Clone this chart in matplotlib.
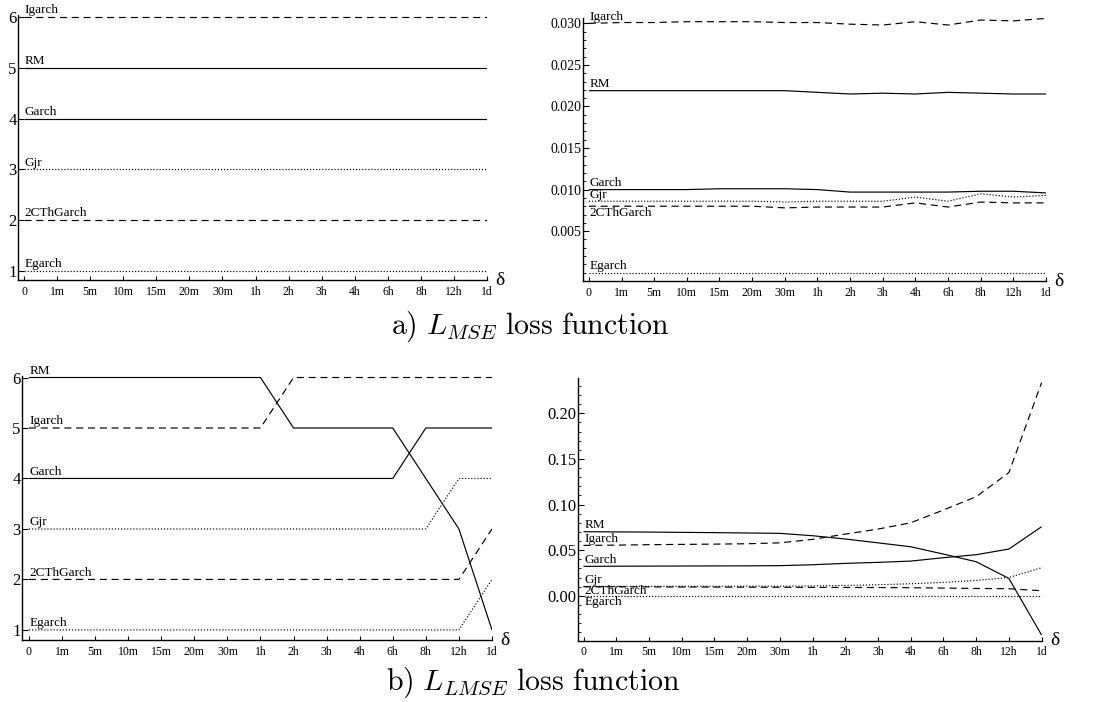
import numpy as np
import matplotlib
matplotlib.use("Agg")
import matplotlib.pyplot as plt
from matplotlib.ticker import MultipleLocator, FixedLocator, FormatStrFormatter

plt.rcParams['font.family'] = ['Liberation Serif', 'DejaVu Serif']
plt.rcParams['mathtext.fontset'] = 'cm'

# sampling frequencies on the horizontal axis
deltas = ['0', '1m', '5m', '10m', '15m', '20m', '30m', '1h', '2h', '3h', '4h', '6h', '8h', '12h', '1d']

# a) L_MSE: ranks
mse_rank_igarch = [6] * 15
mse_rank_rm = [5] * 15
mse_rank_garch = [4] * 15
mse_rank_gjr = [3] * 15
mse_rank_2cth = [2] * 15
mse_rank_egarch = [1] * 15

# a) L_MSE: loss values
mse_igarch = [0.0300, 0.0301, 0.0301, 0.0302, 0.0302, 0.0302, 0.0301, 0.0301,
              0.0299, 0.0298, 0.0302, 0.0298, 0.0304, 0.0303, 0.0306]
mse_rm = [0.0219, 0.0219, 0.0219, 0.0219, 0.0219, 0.0219, 0.0219, 0.0217,
          0.0215, 0.0216, 0.0215, 0.0217, 0.0216, 0.0215, 0.0215]
mse_garch = [0.0100, 0.0100, 0.0100, 0.0100, 0.0101, 0.0101, 0.0101, 0.0100,
             0.0097, 0.0097, 0.0097, 0.0097, 0.0098, 0.0098, 0.0096]
mse_gjr = [0.0086, 0.0086, 0.0086, 0.0086, 0.0086, 0.0086, 0.0085, 0.0086,
           0.0086, 0.0086, 0.0091, 0.0086, 0.0095, 0.0091, 0.0093]
mse_2cth = [0.0080, 0.0080, 0.0080, 0.0080, 0.0080, 0.0080, 0.0078, 0.0079,
            0.0079, 0.0079, 0.0084, 0.0079, 0.0085, 0.0084, 0.0084]
mse_egarch = [0.0000] * 15

# b) L_LMSE: ranks
lmse_rank_rm = [6, 6, 6, 6, 6, 6, 6, 6, 5, 5, 5, 5, 4, 3, 1]
lmse_rank_igarch = [5, 5, 5, 5, 5, 5, 5, 5, 6, 6, 6, 6, 6, 6, 6]
lmse_rank_garch = [4, 4, 4, 4, 4, 4, 4, 4, 4, 4, 4, 4, 5, 5, 5]
lmse_rank_gjr = [3, 3, 3, 3, 3, 3, 3, 3, 3, 3, 3, 3, 3, 4, 4]
lmse_rank_2cth = [2, 2, 2, 2, 2, 2, 2, 2, 2, 2, 2, 2, 2, 2, 3]
lmse_rank_egarch = [1, 1, 1, 1, 1, 1, 1, 1, 1, 1, 1, 1, 1, 1, 2]

# b) L_LMSE: loss values
lmse_rm = [0.0702, 0.0700, 0.0698, 0.0695, 0.0692, 0.0688, 0.0684, 0.0658,
           0.0622, 0.0580, 0.0537, 0.0457, 0.0373, 0.0190, -0.0431]
lmse_igarch = [0.0552, 0.0555, 0.0560, 0.0563, 0.0566, 0.0570, 0.0580, 0.0618,
               0.0676, 0.0731, 0.0800, 0.0940, 0.1086, 0.1350, 0.2336]
lmse_garch = [0.0322, 0.0324, 0.0325, 0.0326, 0.0327, 0.0328, 0.0330, 0.0340,
              0.0355, 0.0366, 0.0380, 0.0417, 0.0450, 0.0512, 0.0757]
lmse_gjr = [0.0102, 0.0103, 0.0103, 0.0104, 0.0104, 0.0105, 0.0105, 0.0107,
            0.0113, 0.0120, 0.0132, 0.0146, 0.0168, 0.0200, 0.0307]
lmse_2cth = [0.0099, 0.0098, 0.0097, 0.0096, 0.0095, 0.0094, 0.0093, 0.0092,
             0.0091, 0.0090, 0.0088, 0.0084, 0.0080, 0.0077, 0.0055]
lmse_egarch = [0.0000] * 15

DASH = (0, (6, 4))
DOT = (0, (1, 1.6))
styles = {'Igarch': DASH, 'RM': '-', 'Garch': '-', 'Gjr': DOT,
          '2CThGarch': DASH, 'Egarch': DOT}


def draw_panel(ax, series, label_pos, xlim, ylim):
    x = np.arange(len(deltas))
    for name, vals in series.items():
        ax.plot(x, vals, color='black', lw=0.85, linestyle=styles[name],
                solid_capstyle='butt')
        dy, va = label_pos.get(name, (0.5, 'bottom'))
        ax.annotate(name, xy=(0, vals[0]), xytext=(0.5, dy),
                    textcoords='offset points', ha='left', va=va, fontsize=9.5)
    ax.set_xlim(*xlim)
    ax.set_ylim(*ylim)
    ax.set_xticks(x)
    ax.set_xticklabels(deltas, fontsize=8.5)
    ax.spines['top'].set_visible(False)
    ax.spines['right'].set_visible(False)
    ax.spines['left'].set_linewidth(1.0)
    ax.spines['bottom'].set_linewidth(1.0)
    ax.tick_params(axis='x', direction='in', length=3, width=0.8, pad=4)
    ax.tick_params(axis='y', direction='in', length=4, width=0.8, pad=1, labelsize=9)
    ax.tick_params(axis='y', which='minor', direction='in', length=2.5, width=0.6)
    ax.annotate('δ', xy=(1, 0), xycoords='axes fraction', xytext=(6, 0),
                textcoords='offset points', ha='left', va='center', fontsize=14)


fig = plt.figure(figsize=(10.94, 7.02), dpi=100)

# a) left: ranks
ax1 = fig.add_axes([0.0165, 0.6011, 0.4287, 0.3775])
draw_panel(ax1, {'Igarch': mse_rank_igarch, 'RM': mse_rank_rm, 'Garch': mse_rank_garch,
                 'Gjr': mse_rank_gjr, '2CThGarch': mse_rank_2cth, 'Egarch': mse_rank_egarch},
           {}, (-0.18, 14.0), (0.82, 6.04))
ax1.yaxis.set_major_locator(FixedLocator([1, 2, 3, 4, 5, 6]))
ax1.tick_params(axis='y', labelsize=12)

# a) right: loss values
ax2 = fig.add_axes([0.5329, 0.5997, 0.4232, 0.3746])
draw_panel(ax2, {'Igarch': mse_igarch, 'RM': mse_rm, 'Garch': mse_garch,
                 'Gjr': mse_gjr, '2CThGarch': mse_2cth, 'Egarch': mse_egarch},
           {'2CThGarch': (-0.5, 'top')}, (-0.18, 14.0), (-0.001, 0.03064))
ax2.yaxis.set_major_locator(FixedLocator([0.005, 0.010, 0.015, 0.020, 0.025, 0.030]))
ax2.yaxis.set_minor_locator(MultipleLocator(0.001))
ax2.yaxis.set_major_formatter(FormatStrFormatter('%.3f'))
ax2.tick_params(axis='y', labelsize=10)

# b) left: ranks
ax3 = fig.add_axes([0.0201, 0.0883, 0.4296, 0.3761])
draw_panel(ax3, {'RM': lmse_rank_rm, 'Igarch': lmse_rank_igarch, 'Garch': lmse_rank_garch,
                 'Gjr': lmse_rank_gjr, '2CThGarch': lmse_rank_2cth, 'Egarch': lmse_rank_egarch},
           {}, (-0.21, 14.0), (0.80, 6.03))
ax3.yaxis.set_major_locator(FixedLocator([1, 2, 3, 4, 5, 6]))
ax3.tick_params(axis='y', labelsize=12)

# b) right: loss values
ax4 = fig.add_axes([0.5280, 0.0873, 0.4241, 0.3738])
draw_panel(ax4, {'RM': lmse_rm, 'Igarch': lmse_igarch, 'Garch': lmse_garch,
                 'Gjr': lmse_gjr, '2CThGarch': lmse_2cth, 'Egarch': lmse_egarch},
           {'2CThGarch': (-3, 'center'), 'Egarch': (-0.5, 'top')},
           (-0.18, 14.0), (-0.0493, 0.2384))
ax4.yaxis.set_major_locator(FixedLocator([0.00, 0.05, 0.10, 0.15, 0.20]))
ax4.yaxis.set_minor_locator(MultipleLocator(0.01))
ax4.yaxis.set_major_formatter(FormatStrFormatter('%.2f'))
ax4.tick_params(axis='y', labelsize=12)

fig.text(0.4845, 0.534, r'$\mathrm{a)}\ L_{MSE}\ \mathrm{loss\ function}$',
         ha='center', va='center', fontsize=21.5)
fig.text(0.487, 0.018, r'$\mathrm{b)}\ L_{LMSE}\ \mathrm{loss\ function}$',
         ha='center', va='baseline', fontsize=21.5)

fig.savefig('out.png', dpi=100)
